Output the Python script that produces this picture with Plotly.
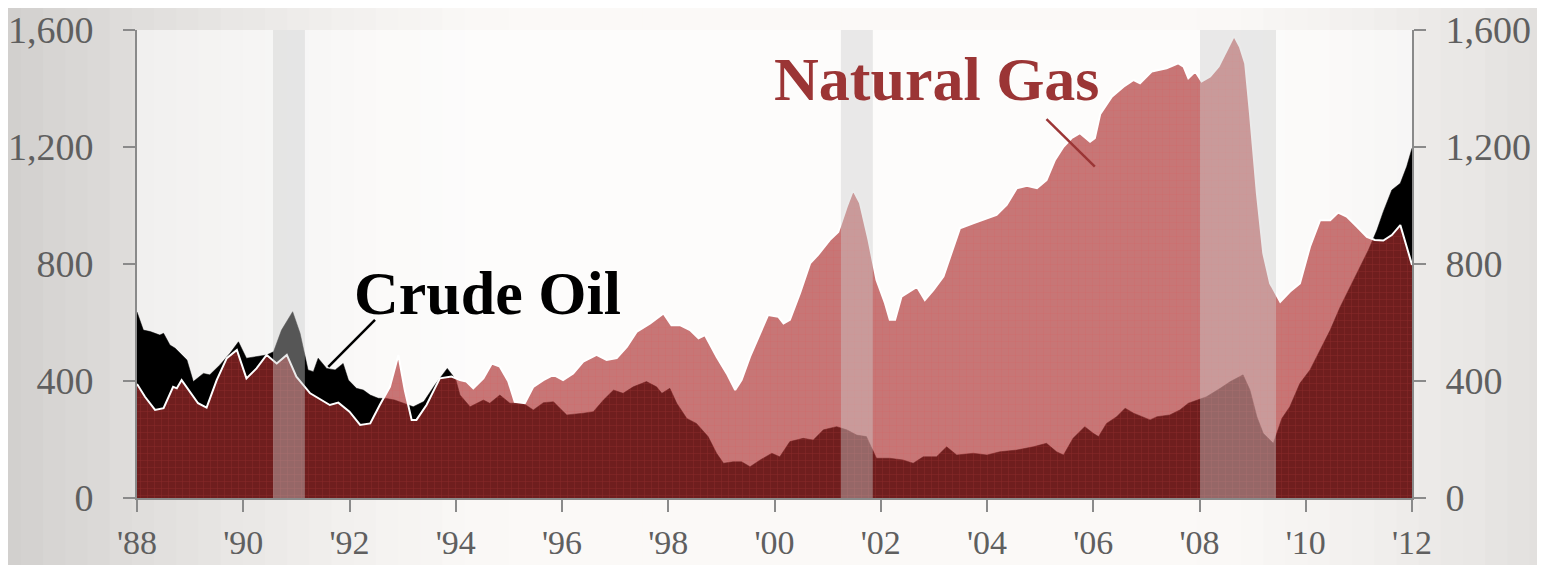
import plotly.graph_objects as go

# Rig counts (decimal year -> rigs)
gas_years = [
    1988.0, 1988.15, 1988.34, 1988.5, 1988.68, 1988.75, 1988.84, 1988.97, 1989.15, 1989.31,
    1989.5, 1989.69, 1989.88, 1990.06, 1990.25, 1990.44, 1990.63, 1990.82, 1991.0, 1991.26,
    1991.63, 1991.79, 1992.0, 1992.2, 1992.39, 1992.57, 1992.76, 1992.92, 1993.04, 1993.17,
    1993.26, 1993.45, 1993.7, 1993.92, 1994.08, 1994.2, 1994.33, 1994.52, 1994.68, 1994.83,
    1994.99, 1995.11, 1995.3, 1995.46, 1995.65, 1995.84, 1996.02, 1996.21, 1996.4, 1996.65,
    1996.84, 1997.03, 1997.22, 1997.41, 1997.66, 1997.91, 1998.06, 1998.22, 1998.41, 1998.57,
    1998.69, 1998.91, 1999.1, 1999.26, 1999.38, 1999.54, 1999.73, 1999.88, 2000.07, 2000.17,
    2000.29, 2000.48, 2000.67, 2000.82, 2001.04, 2001.2, 2001.36, 2001.48, 2001.61, 2001.77,
    2001.92, 2002.08, 2002.17, 2002.27, 2002.39, 2002.68, 2002.83, 2002.99, 2003.18, 2003.33,
    2003.49, 2003.74, 2004.0, 2004.18, 2004.37, 2004.56, 2004.75, 2004.94, 2005.12, 2005.28,
    2005.44, 2005.59, 2005.75, 2005.94, 2006.03, 2006.13, 2006.35, 2006.57, 2006.76, 2006.88,
    2007.1, 2007.38, 2007.6, 2007.7, 2007.79, 2007.92, 2008.04, 2008.2, 2008.36, 2008.51,
    2008.65, 2008.76, 2008.86, 2008.95, 2009.08, 2009.2, 2009.33, 2009.52, 2009.7, 2009.89,
    2010.08, 2010.27, 2010.46, 2010.61, 2010.77, 2010.96, 2011.15, 2011.3, 2011.46, 2011.62,
    2011.78, 2011.9, 2012.0,
]
gas_rigs = [
    390, 346, 301, 307, 380, 375, 403, 369, 324, 309,
    403, 478, 506, 409, 443, 489, 460, 489, 415, 358,
    318, 326, 295, 250, 255, 318, 380, 489, 369, 267,
    267, 318, 409, 415, 403, 398, 375, 409, 460, 449,
    398, 329, 324, 380, 403, 421, 403, 426, 466, 489,
    472, 478, 517, 569, 597, 631, 591, 591, 574, 546,
    557, 483, 426, 369, 403, 483, 563, 626, 620, 597,
    609, 700, 802, 831, 882, 910, 996, 1053, 1008, 882,
    745, 666, 609, 609, 688, 722, 677, 711, 757, 837,
    922, 939, 956, 968, 1002, 1059, 1067, 1059, 1087, 1156,
    1201, 1230, 1247, 1218, 1230, 1312, 1372, 1406, 1429, 1418,
    1458, 1469, 1486, 1475, 1435, 1458, 1424, 1441, 1475, 1532,
    1580, 1543, 1486, 1315, 1042, 837, 734, 671, 705, 734,
    859, 950, 950, 976, 962, 928, 893, 882, 880, 899,
    933, 859, 797,
]

oil_years = [
    1988.0, 1988.12, 1988.25, 1988.43, 1988.5, 1988.62, 1988.72, 1988.81, 1988.94, 1989.06,
    1989.25, 1989.37, 1989.56, 1989.75, 1989.91, 1990.06, 1990.28, 1990.44, 1990.57, 1990.72,
    1990.93, 1991.07, 1991.22, 1991.32, 1991.41, 1991.57, 1991.73, 1991.88, 1991.98, 1992.13,
    1992.26, 1992.39, 1992.54, 1992.7, 1992.85, 1993.0, 1993.2, 1993.4, 1993.6, 1993.84,
    1994.0, 1994.08, 1994.27, 1994.52, 1994.64, 1994.83, 1995.02, 1995.27, 1995.46, 1995.65,
    1995.84, 1995.96, 1996.09, 1996.4, 1996.59, 1996.78, 1996.97, 1997.15, 1997.34, 1997.59,
    1997.78, 1997.88, 1998.03, 1998.16, 1998.35, 1998.53, 1998.75, 1998.91, 1999.04, 1999.22,
    1999.38, 1999.54, 1999.73, 1999.95, 2000.1, 2000.29, 2000.54, 2000.73, 2000.92, 2001.17,
    2001.36, 2001.55, 2001.73, 2001.92, 2002.17, 2002.42, 2002.61, 2002.8, 2003.05, 2003.24,
    2003.43, 2003.74, 2004.0, 2004.24, 2004.56, 2004.87, 2005.12, 2005.31, 2005.44, 2005.62,
    2005.84, 2006.0, 2006.1, 2006.25, 2006.44, 2006.6, 2006.76, 2007.07, 2007.2, 2007.44,
    2007.63, 2007.79, 2007.95, 2008.13, 2008.39, 2008.58, 2008.82, 2008.95, 2009.08, 2009.2,
    2009.39, 2009.55, 2009.7, 2009.89, 2010.08, 2010.27, 2010.46, 2010.65, 2010.84, 2011.02,
    2011.18, 2011.34, 2011.46, 2011.62, 2011.78, 2011.9, 2012.0,
]
oil_rigs = [
    636, 574, 569, 557, 563, 523, 512, 495, 472, 398,
    426, 421, 455, 495, 534, 478, 483, 489, 500, 574,
    637, 563, 438, 432, 478, 443, 438, 460, 403, 375,
    369, 352, 341, 340, 335, 325, 312, 330, 385, 443,
    405, 352, 312, 335, 324, 352, 324, 324, 301, 326,
    329, 307, 284, 290, 295, 335, 369, 358, 380, 398,
    380, 358, 375, 324, 272, 255, 210, 153, 119, 124,
    124, 107, 130, 153, 141, 193, 204, 198, 233, 244,
    233, 215, 210, 136, 136, 130, 119, 141, 141, 175,
    147, 153, 147, 158, 164, 175, 187, 158, 147, 204,
    244, 221, 210, 255, 278, 307, 290, 267, 278, 284,
    301, 324, 335, 346, 375, 398, 421, 369, 278, 221,
    187, 272, 312, 392, 438, 506, 574, 654, 722, 791,
    848, 916, 979, 1053, 1076, 1133, 1196,
]

# recessions (start, end)
recessions = [(1990.56, 1991.16), (2001.25, 2001.85), (2008.01, 2009.44)]

x_ticks = list(range(1988, 2013, 2))
x_labels = ["'88", "'90", "'92", "'94", "'96", "'98", "'00", "'02", "'04", "'06", "'08", "'10", "'12"]
y_ticks = [0, 400, 800, 1200, 1600]
y_labels = ["0", "400", "800", "1,200", "1,600"]

SERIF = "Liberation Serif, Times New Roman, serif"
AXIS_GREY = "#8a8a8a"
LABEL_GREY = "#5f5f5f"
GAS_RED = "#9b3535"

# ページの body 余白 (8px) を見込んだ図サイズ
W, H = 1537, 557
M_L, M_R, M_T, M_B = 129, 133, 22, 67
PW, PH = W - M_L - M_R, H - M_T - M_B

fig = go.Figure()

# 原油: 黒塗り
fig.add_trace(go.Scatter(
    x=oil_years, y=oil_rigs, mode="lines", fill="tozeroy",
    fillcolor="black", line=dict(color="black", width=0.5),
    name="Crude Oil", hoverinfo="skip",
))

# 天然ガス: 半透明の赤 (黒の上では暗赤色になる)
fig.add_trace(go.Scatter(
    x=gas_years, y=gas_rigs, mode="lines", fill="tozeroy",
    fillcolor="rgba(170,46,46,0.65)",
    fillpattern=dict(shape="+", size=7, solidity=0.12,
                     fgcolor="rgba(215,80,80,0.55)", bgcolor="rgba(170,46,46,0.65)"),
    line=dict(color="white", width=2),
    name="Natural Gas", hoverinfo="skip",
))

# 背景: 左右が暗くなるグラデーション (paper 座標はプロット領域基準なので外側まで伸ばす)
px0, px1 = -(M_L + 8) / PW, 1 + (M_R + 8) / PW
py0, py1 = -(M_B + 8) / PH, 1 + (M_T + 8) / PH
n_strips = 70
for i in range(n_strips):
    t = (i + 0.5) / n_strips
    d = max(0.0, abs(t - 0.55) - 0.22) / 0.33
    c = int(251 - 42 * min(d, 1.0) ** 1.4)
    xa = px0 + (px1 - px0) * i / n_strips
    xb = px0 + (px1 - px0) * (i + 1) / n_strips
    fig.add_shape(type="rect", xref="paper", yref="paper", layer="below",
                  x0=xa - 0.001, x1=xb + 0.001, y0=py0, y1=py1,
                  fillcolor=f"rgb({c},{c - 2},{c - 4})", line=dict(width=0))
# plot-area: near white
fig.add_shape(type="rect", xref="x", yref="y", layer="below",
              x0=1988, x1=2012, y0=0, y1=1600,
              fillcolor="rgba(255,255,255,0.55)", line=dict(width=0))

for r0, r1 in recessions:
    fig.add_shape(type="rect", xref="x", yref="y", layer="above",
                  x0=r0, x1=r1, y0=0, y1=1600,
                  fillcolor="rgba(205,205,205,0.42)", line=dict(width=0))

# annotation leader lines
fig.add_shape(type="line", xref="x", yref="y", x0=1992.48, y0=609, x1=1991.6, y1=448,
              line=dict(color="black", width=2.5))
fig.add_shape(type="line", xref="x", yref="y", x0=2005.12, y0=1295, x1=2006.03, y1=1133,
              line=dict(color=GAS_RED, width=2.5))

fig.add_annotation(x=1994.6, y=700, xref="x", yref="y", text="<b>Crude Oil</b>",
                   showarrow=False, font=dict(family=SERIF, size=62, color="black"))
fig.add_annotation(x=2003.05, y=1432, xref="x", yref="y", text="<b>Natural Gas</b>",
                   showarrow=False, font=dict(family=SERIF, size=62, color=GAS_RED))

axis_common = dict(
    showgrid=False, zeroline=False, showline=True, linecolor=AXIS_GREY, linewidth=2,
    ticks="outside", ticklen=12, tickwidth=2, tickcolor=AXIS_GREY, automargin=False,
)
fig.update_layout(
    width=W, height=H,
    margin=dict(l=M_L, r=M_R, t=M_T, b=M_B, autoexpand=False),
    paper_bgcolor="rgba(0,0,0,0)",
    plot_bgcolor="rgba(0,0,0,0)",
    showlegend=False,
    xaxis=dict(
        range=[1988, 2012], tickvals=x_ticks, ticktext=x_labels,
        tickfont=dict(family=SERIF, size=34, color=LABEL_GREY), ticklabelstandoff=1,
        **axis_common,
    ),
    yaxis=dict(
        range=[0, 1600], tickvals=y_ticks, ticktext=y_labels,
        tickfont=dict(family=SERIF, size=38, color=LABEL_GREY), ticklabelstandoff=22,
        **axis_common,
    ),
    yaxis2=dict(
        range=[0, 1600], tickvals=y_ticks, ticktext=y_labels, overlaying="y", side="right",
        tickfont=dict(family=SERIF, size=38, color=LABEL_GREY), ticklabelstandoff=12,
        **axis_common,
    ),
)
# dummy trace so the right axis is drawn
fig.add_trace(go.Scatter(x=[1988], y=[0], yaxis="y2", mode="markers",
                         marker=dict(opacity=0), hoverinfo="skip", showlegend=False))

fig.write_html("out.html")
